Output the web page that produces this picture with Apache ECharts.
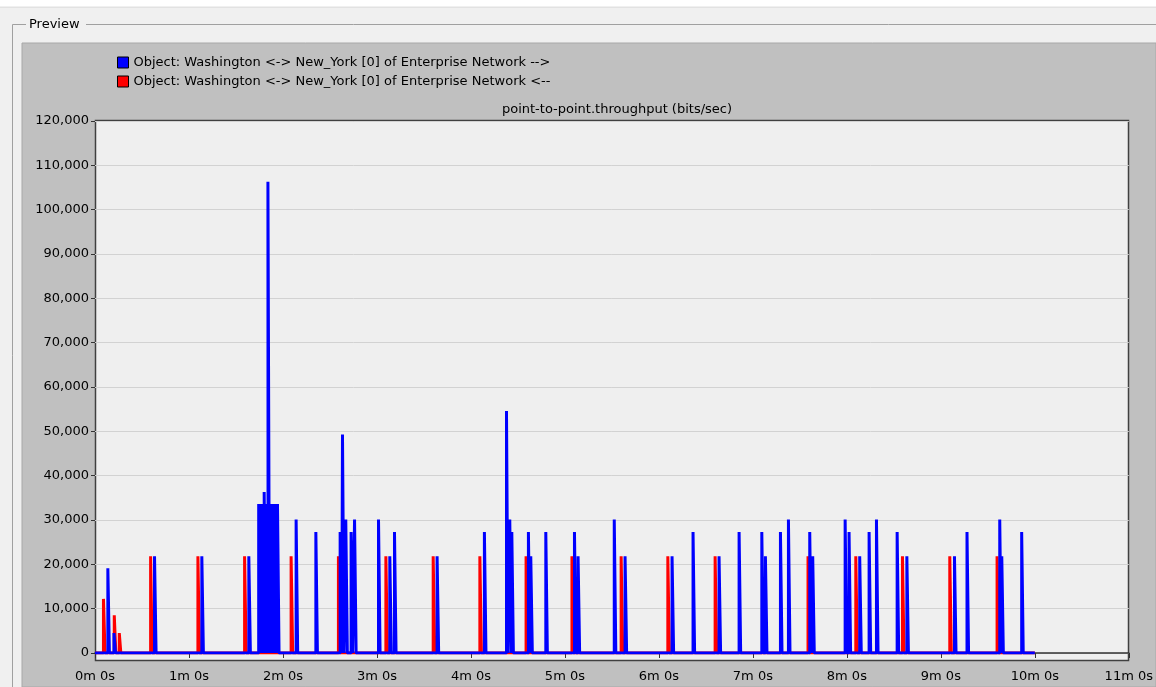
<!DOCTYPE html>
<html><head><meta charset="utf-8">
<script src="https://cdn.jsdelivr.net/npm/echarts@6/dist/echarts.min.js"></script>
<style>html,body{margin:0;padding:0;background:#f0f0f0;overflow:hidden}#c{width:1156px;height:687px}</style>
</head><body><div id="c"></div>
<script>
// ---- data ----
const chartTitle = 'point-to-point.throughput (bits/sec)';
const blueName = 'Object: Washington <-> New_York [0] of Enterprise Network -->';
const redName  = 'Object: Washington <-> New_York [0] of Enterprise Network <--';
const xTickLabels = ['0m 0s','1m 0s','2m 0s','3m 0s','4m 0s','5m 0s','6m 0s','7m 0s','8m 0s','9m 0s','10m 0s','11m 0s'];
const simEnd = 600; // seconds

// blue ( --> ) throughput spikes: time (s) and value (bits/sec)
const blueTimes = [8.7, 12.6, 38.5, 68.7, 98.7,
  105, 106, 107, 108, 108.5, 109, 110, 110.9, 111, 112, 113, 114, 115, 116, 117,
  128.9, 141.5, 157.0, 158.5, 160.6, 164.0, 166.2, 181.5, 188.7, 191.7, 218.9,
  249.1, 263.2, 265.3, 266.6, 277.2, 278.7, 288.3, 306.6, 308.9, 332.0, 338.9,
  368.9, 382.3, 398.9, 411.7, 426.2, 428.5, 438.1, 443.2, 456.8, 458.7,
  479.4, 481.9, 488.7, 494.7, 499.4, 512.6, 518.8, 549.2, 557.2, 578.1, 579.4, 592.1];
const blueValues = [19100, 4500, 21800, 21800, 21800,
  33600, 33600, 33600, 33600, 36300, 33600, 33600, 106300, 33600, 33600, 33600, 33600, 33600, 33600, 33600,
  30100, 27300, 27300, 49300, 30100, 27300, 30100, 30100, 21800, 27300, 21800,
  27300, 54600, 30100, 27300, 27300, 21800, 27300, 27300, 21800, 30100, 21800,
  21800, 27300, 21800, 27300, 27300, 21800, 27300, 30100, 27300, 21800,
  30100, 27300, 21800, 27300, 30100, 27300, 21800, 21800, 27300, 30100, 21800, 27300];

// red ( <-- ) throughput spikes
const redTimes = [5.9, 12.8, 16.0, 36.0, 66.2, 96.0, 125.7, 155.9, 186.2, 216.4, 246.2, 275.7,
  305.0, 336.4, 366.2, 396.4, 455.7, 486.2, 516.0, 546.2, 576.4];
const redValues = [12200, 8500, 4500, 21800, 21800, 21800, 21800, 21800, 21800, 21800, 21800, 21800,
  21800, 21800, 21800, 21800, 21800, 21800, 21800, 21800, 21800];

// ---- build pulse polylines from the spike lists ----
const HALF = 0.5;
function pulses(times, values, end) {
  const idx = times.map((t, i) => i).sort((a, b) => times[a] - times[b]);
  const d = [[0, 0]];
  idx.forEach(i => {
    const t = times[i], v = values[i];
    d.push([t - HALF, 0], [t - HALF, v], [t + HALF, v], [t + HALF, 0]);
  });
  d.push([end, 0]);
  return d;
}

const FONT = 'DejaVu Sans';
const chart = echarts.init(document.getElementById('c'), null, {renderer: 'canvas'});
chart.setOption({
  animation: false,
  backgroundColor: '#f0f0f0',
  graphic: [
    {type: 'rect', z: -20, shape: {x: 0, y: 0, width: 1156, height: 6}, style: {fill: '#ffffff'}},
    {type: 'line', z: -20, shape: {x1: 0, y1: 7.5, x2: 1156, y2: 7.5}, style: {stroke: '#e2e2e2', lineWidth: 1}},
    {type: 'polyline', z: -20, shape: {points: [[26, 24.5], [12.5, 24.5], [12.5, 687]]}, style: {stroke: '#a0a0a0', fill: null, lineWidth: 1}},
    {type: 'line', z: -20, shape: {x1: 86, y1: 24.5, x2: 1156, y2: 24.5}, style: {stroke: '#a0a0a0', lineWidth: 1}},
    {type: 'text', z: -20, x: 29, y: 25, style: {text: 'Preview', font: '13px "DejaVu Sans"', fill: '#000', textVerticalAlign: 'middle'}},
    {type: 'rect', z: -20, shape: {x: 22, y: 43, width: 1134, height: 644}, style: {fill: '#c0c0c0', stroke: '#a8a8a8', lineWidth: 1}},
    {type: 'rect', z: -10, shape: {x: 95.5, y: 120.5, width: 1033, height: 540}, style: {fill: '#efefef', stroke: '#404040', lineWidth: 1.5}}
  ],
  title: {
    text: chartTitle, left: 612, top: 98, textAlign: 'center',
    textStyle: {fontFamily: FONT, fontSize: 13, fontWeight: 'normal', color: '#000'}
  },
  legend: {
    data: [blueName, redName], orient: 'vertical', left: 117, top: 56,
    icon: 'rect', itemWidth: 11, itemHeight: 11, itemGap: 6, padding: 0,
    itemStyle: {borderColor: '#000', borderWidth: 1},
    textStyle: {fontFamily: FONT, fontSize: 13, color: '#000'},
    selectedMode: false
  },
  grid: {left: 95, right: 27, top: 121, bottom: 34, containLabel: false},
  xAxis: {
    type: 'value', min: 0, max: 660, interval: 60, offset: 7,
    axisLine: {show: true, lineStyle: {color: '#333', width: 1.5}},
    axisTick: {show: true, length: 5, lineStyle: {color: '#333'}},
    axisLabel: {margin: 10, fontFamily: FONT, fontSize: 13, color: '#000',
      formatter: v => xTickLabels[Math.round(v / 60)]},
    splitLine: {show: false}
  },
  yAxis: {
    type: 'value', min: 0, max: 120000, interval: 10000,
    axisLine: {show: false},
    axisTick: {show: true, length: 4, lineStyle: {color: '#333'}},
    axisLabel: {margin: 6, fontFamily: FONT, fontSize: 13, color: '#000',
      formatter: v => v.toLocaleString('en-US')},
    splitLine: {show: true, lineStyle: {color: '#d2d2d2', width: 1}}
  },
  series: [
    {name: redName, type: 'line', data: pulses(redTimes, redValues, simEnd), showSymbol: false,
      color: '#ff0000', lineStyle: {color: '#ff0000', width: 3}, itemStyle: {color: '#ff0000'}, silent: true},
    {name: blueName, type: 'line', data: pulses(blueTimes, blueValues, simEnd), showSymbol: false,
      color: '#0000ff', lineStyle: {color: '#0000ff', width: 3}, itemStyle: {color: '#0000ff'}, silent: true}
  ]
});
</script></body></html>
